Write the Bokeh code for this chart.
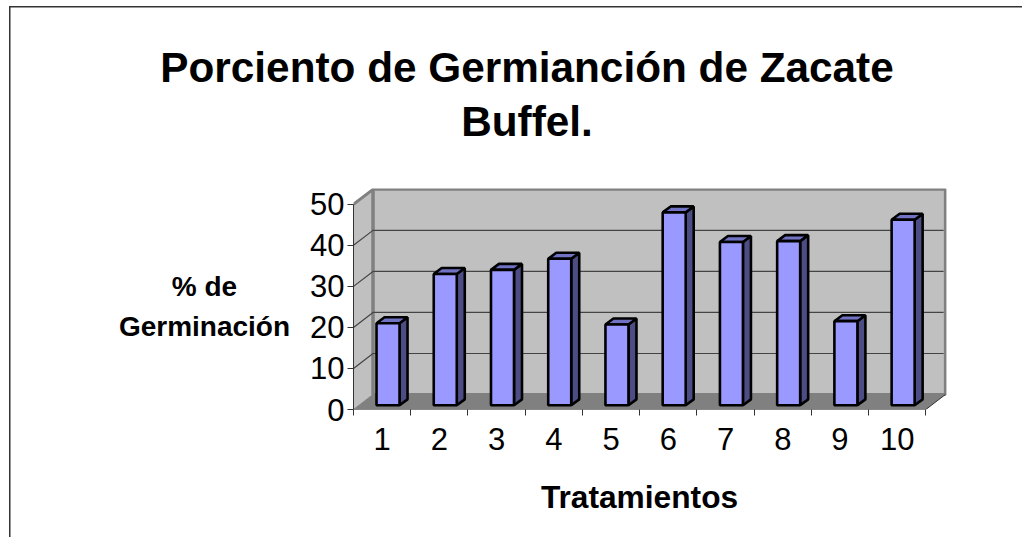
from bokeh.plotting import figure
from bokeh.embed import file_html
from bokeh.resources import INLINE
from bokeh.models import FixedTicker, Range1d, Label

tratamientos = ["1", "2", "3", "4", "5", "6", "7", "8", "9", "10"]
germinacion = [20, 32, 33, 35.7, 19.7, 47, 39.8, 40, 20.5, 45.2]
y_ticks = [0, 10, 20, 30, 40, 50]
titulo = ["Porciento de Germianción de Zacate", "Buffel."]
eje_y = ["% de", "Germinación"]
eje_x = "Tratamientos"

FRONT, SIDE, TOP = "#9999ff", "#4d4d85", "#7272c4"
DEPTH_X, DEPTH_Y = 19.5 / 57.2, 15 / 4.12   # depth of the 3D box, data units
BAR_DX, BAR_DY = 8 / 57.2, 6 / 4.12
BAR_W, BAR_X0, BAR_Y0 = 23 / 57.2, 23 / 57.2, 4.2 / 4.12
n = len(tratamientos)
OX, OY = 361, 417  # frame's left and bottom on the canvas
PAD = 8            # page position + PAD = canvas position

p = figure(width=1030, height=545, output_backend="svg", toolbar_location=None,
           x_range=Range1d(0, 10 + DEPTH_X + 0.02), y_range=Range1d(0, 50 + DEPTH_Y + 0.2),
           x_axis_type="linear", min_border_left=OX, min_border_right=76,
           min_border_top=196, min_border_bottom=545 - OY, outline_line_color=None,
           background_fill_color=None, border_fill_color=None, margin=(-8, 0, 0, -8))
p.grid.visible = False

# picture frame: only its left and top edges are on the page
p.styles = {
    "background-image": "linear-gradient(#333333,#333333), linear-gradient(#333333,#333333)",
    "background-size": "100% 1.5px, 1.5px 100%",
    "background-position": f"{9 + PAD}px {6 + PAD}px, {9 + PAD}px {6 + PAD}px",
    "background-repeat": "no-repeat",
}

# walls and floor
p.patch([0, DEPTH_X, DEPTH_X, 0], [0, DEPTH_Y, 50 + DEPTH_Y, 50], fill_color="#c0c0c0",
        line_color="#808080", line_width=1)
p.patch([DEPTH_X, 10 + DEPTH_X, 10 + DEPTH_X, DEPTH_X], [DEPTH_Y, DEPTH_Y, 50 + DEPTH_Y, 50 + DEPTH_Y],
        fill_color="#c0c0c0", line_color="#808080", line_width=3)
p.line([0, DEPTH_X, DEPTH_X], [50, 50 + DEPTH_Y, DEPTH_Y], line_color="#808080", line_width=3)
p.patch([0, 10, 10 + DEPTH_X, DEPTH_X], [0, 0, DEPTH_Y, DEPTH_Y], fill_color="#808080", line_color=None)
p.line([0, 10, 10 + DEPTH_X], [0, 0, DEPTH_Y], line_color="#333333", line_width=1)

# gridlines
for t in y_ticks[1:-1]:
    p.line([0, DEPTH_X, 10 + DEPTH_X - 0.03], [t, t + DEPTH_Y, t + DEPTH_Y], line_color="#444444", line_width=1.2)

# bars
for i, v in enumerate(germinacion):
    x0 = i + BAR_X0
    x1 = x0 + BAR_W
    y0 = BAR_Y0
    y1 = y0 + v
    p.patch([x1, x1 + BAR_DX, x1 + BAR_DX, x1], [y0, y0 + BAR_DY, y1 + BAR_DY, y1],
            fill_color=SIDE, line_color="black", line_width=2.6)
    p.patch([x0, x1, x1 + BAR_DX, x0 + BAR_DX], [y1, y1, y1 + BAR_DY, y1 + BAR_DY],
            fill_color=TOP, line_color="black", line_width=2.6)
    p.patch([x0, x1, x1, x0], [y0, y0, y1, y1], fill_color=FRONT, line_color="black", line_width=2.6)

# axes
ya = p.yaxis[0]
ya.ticker = FixedTicker(ticks=y_ticks)
ya.bounds = (0, 50)
ya.axis_line_color = "#333333"
ya.major_tick_line_color = "#333333"
ya.major_tick_in = 0
ya.major_tick_out = 6
ya.minor_tick_out = 0
ya.minor_tick_in = 0
ya.major_label_text_font = "Liberation Sans"
ya.major_label_text_font_size = "31px"
ya.major_label_text_color = "black"
ya.major_label_standoff = 3

xa = p.xaxis[0]
xa.ticker = FixedTicker(ticks=[i + 0.5 for i in range(n)], minor_ticks=list(range(n + 1)))
xa.major_label_overrides = {i + 0.5: t for i, t in enumerate(tratamientos)}
xa.bounds = (0, 10)
xa.axis_line_color = None
xa.major_tick_line_color = None
xa.minor_tick_line_color = "#333333"
xa.minor_tick_in = 0
xa.minor_tick_out = 6
xa.major_tick_in = 0
xa.major_tick_out = 0
xa.major_label_standoff = 12
xa.major_label_text_font = "Liberation Sans"
xa.major_label_text_font_size = "31px"
xa.major_label_text_color = "black"


def texto(s, cx, base, size):
    p.add_layout(Label(x=cx + PAD, y=base + PAD, x_units="canvas", y_units="canvas", text=s,
                       text_align="center", text_baseline="alphabetic", text_font="Liberation Sans",
                       text_font_style="bold", text_font_size=size, text_color="black"), "above")


for line, base in zip(titulo, [67, 121]):
    texto(line, 526.5, base, "42.3px")
for line, base in zip(eje_y, [286, 326]):
    texto(line, 204, base, "28px")
texto(eje_x, 639, 496, "31.7px")

open("out.html", "w").write(file_html(p, INLINE))
